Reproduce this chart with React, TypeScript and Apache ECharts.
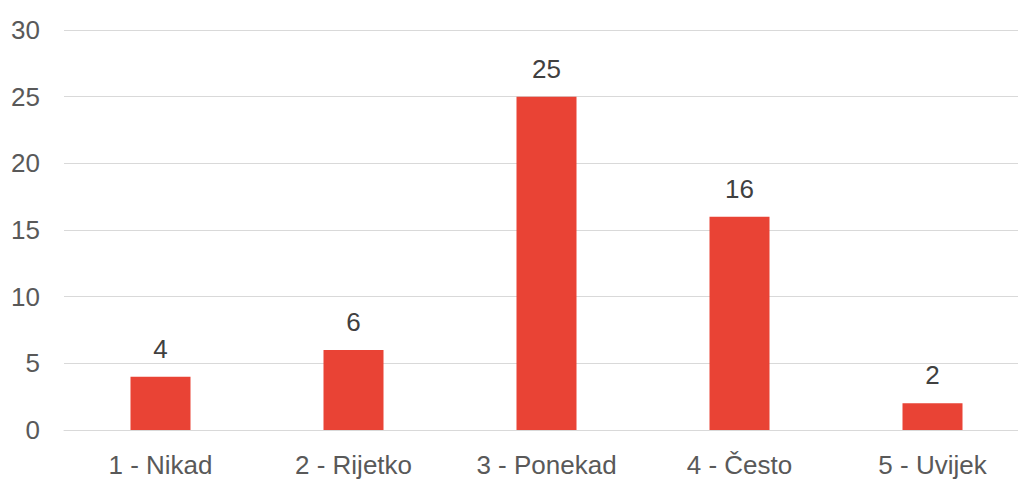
import React, { useEffect, useRef } from "react";
import * as echarts from "echarts";

const categories = ["1 - Nikad", "2 - Rijetko", "3 - Ponekad", "4 - Često", "5 - Uvijek"];
const values = [4, 6, 25, 16, 2];

export default function App() {
  const ref = useRef<HTMLDivElement>(null);
  useEffect(() => {
    document.body.style.margin = "0";
    const chart = echarts.init(ref.current!, null, { renderer: "svg" });
    chart.setOption({
      animation: false,
      grid: {
        left: 64,
        width: 965,
        top: 30,
        bottom: 49,
        containLabel: false,
        outerBoundsMode: "none",
      },
      xAxis: {
        type: "category",
        data: categories,
        axisLine: { show: true, lineStyle: { color: "#d9d9d9", width: 1 } },
        axisTick: { show: false },
        axisLabel: {
          color: "#595959",
          fontSize: 26,
          fontFamily: "Liberation Sans, Arial, sans-serif",
          margin: 22,
        },
      },
      yAxis: {
        type: "value",
        min: 0,
        max: 30,
        interval: 5,
        axisLine: { show: false },
        axisTick: { show: false },
        splitLine: { lineStyle: { color: "#d9d9d9", width: 1 } },
        axisLabel: {
          color: "#595959",
          fontSize: 26,
          fontFamily: "Liberation Sans, Arial, sans-serif",
          margin: 24,
        },
      },
      series: [
        {
          type: "bar",
          data: values,
          barWidth: 60,
          itemStyle: { color: "#E94335" },
          label: {
            show: true,
            position: "top",
            distance: 15,
            color: "#404040",
            fontSize: 26,
            fontFamily: "Liberation Sans, Arial, sans-serif",
          },
        },
      ],
    });
    return () => chart.dispose();
  }, []);
  return <div ref={ref} style={{ width: 1018, height: 479 }} />;
}
